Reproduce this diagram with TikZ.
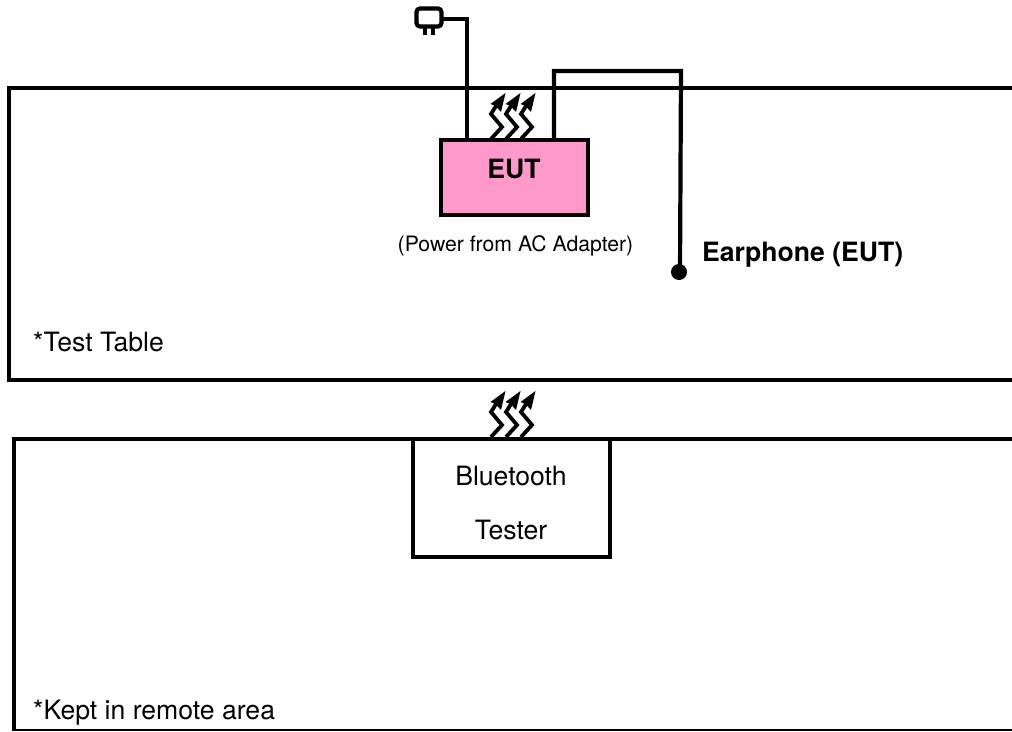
\documentclass[tikz,border=0pt]{standalone}
\usepackage{fontspec}
\setmainfont{TeX Gyre Heros}
\definecolor{eutpink}{HTML}{FF99CC}
\tikzset{
  wire/.style={draw=black,line width=4.2pt,line join=miter},
  boxline/.style={draw=black,line width=4.2pt},
  lab/.style={inner sep=0pt,anchor=base west,font=\fontsize{26.6}{30}\selectfont},
  clab/.style={inner sep=0pt,anchor=base,font=\fontsize{26.6}{30}\selectfont},
  wave/.pic={
    \draw[line width=3.8pt,line join=miter] (0,0) -- (11,-12) -- (0,-25) -- (5,-33);
    \fill (14.5,-46) -- (-0.5,-35) -- (4.5,-33) -- (10,-27) -- cycle;
  }
}
\begin{document}
\begin{tikzpicture}[x=1pt,y=-1pt]
\useasboundingbox (0,0) rectangle (1012,731);
% tables
\path[boxline] (1014,88) -- (9,88) -- (9,380) -- (1014,380);
\draw[line width=4.5pt] (14,731) -- (14,439) -- (1014,439);
\draw[line width=1.5pt] (14,730) -- (1014,730);
% EUT
\node[boxline,fill=eutpink,minimum width=147pt,minimum height=75pt,inner sep=0pt,anchor=north west,outer sep=0pt] (eut) at (441,140) {};
\node[font=\bfseries\fontsize{26.6}{30}\selectfont,inner sep=0pt,anchor=base] (eutl) at (514,178) {EUT};
\node[inner sep=0pt,anchor=base,font=\fontsize{21.2}{25}\selectfont] (pw) at (515.5,251) {(Power from AC Adapter)};
\node[lab,font=\bfseries\fontsize{26.6}{30}\selectfont] (ear) at (702,261) {Earphone (EUT)};
\node[lab] (tt) at (33,351) {*Test Table};
\node[lab] (kr) at (33,719) {*Kept in remote area};
% tester
\node[boxline,fill=white,minimum width=197pt,minimum height=118pt,inner sep=0pt,anchor=north west,outer sep=0pt] (bt) at (413,439) {};
\node[clab] (bt1) at (511,485) {Bluetooth};
\node[clab] (bt2) at (511,539) {Tester};
% plug
\node[draw=black,line width=4.2pt,rounded corners=3.5pt,minimum width=25pt,minimum height=18pt,inner sep=0pt,outer sep=0pt,anchor=north west] (plug) at (416.5,8.5) {};
\fill (423,26) rectangle (427,35);
\fill (431,26) rectangle (435,35);
% connectors
\coordinate (p1) at (467,19);
\coordinate (e1) at (554,71);
\coordinate (e2) at (681,71);
\coordinate (dotc) at (680,272);
\path[wire] (plug.east |- p1) -- (p1) -- (467,140);
\path[wire] (554,140) -- (e1) -- (e2) -- (dotc);
\node[circle,fill=black,minimum size=16pt,inner sep=0pt] (dot) at (679,272) {};
% RF arrows
\foreach \x in {0,15,30}{
  \pic at (491+\x,139) {wave};
  \pic at (491+\x,437) {wave};
}
\end{tikzpicture}
\end{document}
